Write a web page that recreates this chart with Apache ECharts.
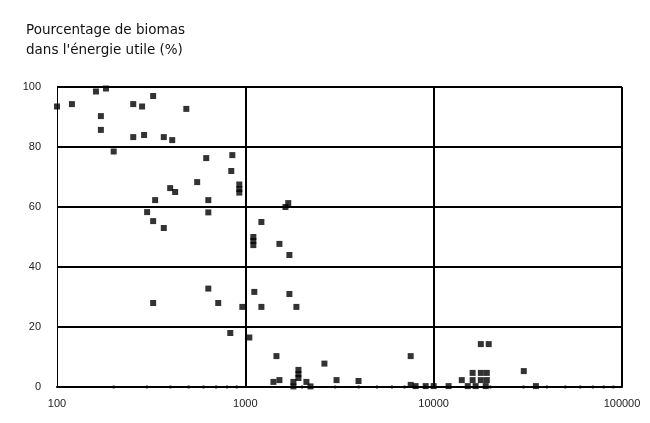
<!DOCTYPE html>
<html>
<head>
<meta charset="utf-8">
<script src="https://cdn.jsdelivr.net/npm/echarts@6/dist/echarts.min.js"></script>
<style>html,body{margin:0;padding:0;background:#fff}#c{width:650px;height:423px}</style>
</head>
<body>
<div id="c"></div>
<script>
var titleLines = ["Pourcentage de biomas", "dans l'énergie utile (%)"];
var xTickLabels = [100, 1000, 10000, 100000];
var yTicks = [0, 20, 40, 60, 80, 100];
var minorTickValues = [200, 300, 400, 500, 600, 700, 800, 900, 2000, 3000, 4000, 5000, 6000, 7000, 8000, 9000, 20000, 30000, 40000, 50000, 60000, 70000, 80000, 90000];
// energy use (x, log scale) and biomass share (y, %)
var energy = [100, 120, 161, 182, 171, 171, 200, 254, 283, 324, 486, 254, 290, 369, 409, 620, 853, 842, 555, 929, 929, 929, 399, 424, 332, 636, 301, 636, 324, 369,
  1690, 1633, 1217, 1103, 1103, 1103, 1517, 1714, 636, 324, 718, 964, 1116, 1217, 1714, 1867, 832, 1050, 1463, 1410, 1517, 1914, 1914, 1914, 1800, 1800,
  2110, 2218, 2630, 3050, 3990, 7550, 7550, 8020, 9070, 10000, 12000, 14100, 15170, 16100, 16100, 17800, 19150, 17800, 19150, 17800, 19600, 16700, 18900, 30100, 34900];
var biomass = [93.5, 94.3, 98.5, 99.5, 90.3, 85.7, 78.5, 94.3, 93.5, 97, 92.7, 83.3, 84, 83.3, 82.3, 76.3, 77.3, 72, 68.3, 67.5, 66, 64.8, 66.3, 65, 62.3, 62.3, 58.3, 58.2, 55.3, 53,
  61.3, 60, 55, 50, 48.7, 47.3, 47.7, 44, 32.8, 28, 28, 26.7, 31.7, 26.7, 31, 26.7, 18, 16.5, 10.3, 1.7, 2.3, 5.7, 4.3, 3, 1.7, 0.2,
  1.7, 0.2, 7.8, 2.3, 2, 10.3, 0.7, 0.3, 0.3, 0.3, 0.3, 2.3, 0.3, 4.7, 2.3, 4.7, 4.7, 2.3, 2.3, 14.3, 14.3, 0.3, 0.3, 5.3, 0.3];

var points = energy.map(function (e, i) { return [e, biomass[i]]; });
var minorPts = minorTickValues.map(function (v) { return [v, 0]; });

var chart = echarts.init(document.getElementById('c'), null, {renderer: 'canvas'});
chart.setOption({
  backgroundColor: '#fff',
  animation: false,
  title: {
    text: titleLines.join('\n'),
    left: 21, top: 15,
    textStyle: {fontFamily: 'DejaVu Sans', fontSize: 13.5, fontWeight: 'normal', color: '#111', lineHeight: 20}
  },
  grid: {left: 57, right: 28, top: 87, bottom: 36, containLabel: false},
  xAxis: {
    type: 'log', logBase: 10, min: xTickLabels[0], max: xTickLabels[xTickLabels.length - 1],
    axisLine: {show: true, lineStyle: {color: '#000', width: 2}},
    axisTick: {show: false},
    minorTick: {show: false},
    axisLabel: {
      margin: 11, color: '#222', fontFamily: 'Liberation Sans', fontSize: 11,
      formatter: function (v) { return String(Math.round(v)); }
    },
    splitLine: {show: true, showMinLine: false, lineStyle: {color: '#000', width: 2}}
  },
  yAxis: {
    type: 'value', min: yTicks[0], max: yTicks[yTicks.length - 1], interval: 20,
    axisLine: {show: true, lineStyle: {color: '#000', width: 1}},
    axisTick: {show: false},
    axisLabel: {margin: 16, color: '#222', fontFamily: 'Liberation Sans', fontSize: 11},
    splitLine: {show: true, showMinLine: false, lineStyle: {color: '#000', width: 2}}
  },
  series: [
    {
      type: 'scatter', data: minorPts, symbol: 'rect', symbolSize: [2, 3],
      itemStyle: {color: '#000'}, silent: true, z: 3
    },
    {
      type: 'scatter', data: points, symbol: 'rect', symbolSize: 6,
      itemStyle: {color: '#000'}, z: 4
    }
  ]
});
</script>
</body>
</html>
